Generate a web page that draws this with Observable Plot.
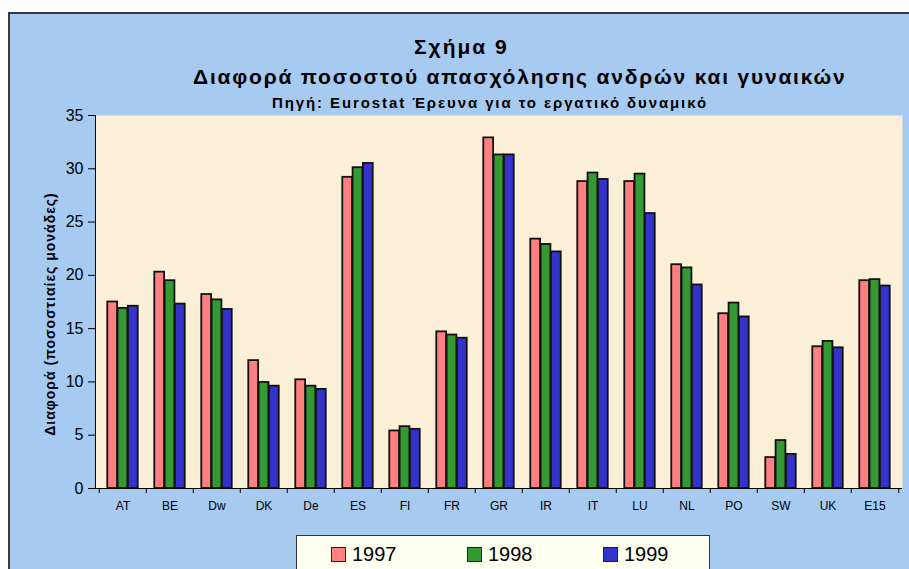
<!DOCTYPE html>
<html>
<head>
<meta charset="utf-8">
<script src="https://cdn.jsdelivr.net/npm/d3@7"></script>
<script src="https://cdn.jsdelivr.net/npm/@observablehq/plot@0.6"></script>
<style>
  html, body { margin: 0; padding: 0; background: #fff; }
  #wrap { position: relative; width: 909px; height: 569px; overflow: hidden; background: #fff; font-family: "Liberation Sans", Arial, sans-serif; }
  #box { position: absolute; left: 8px; top: 12px; width: 920px; height: 580px; background: #A6CAF0; border-top: 2px solid #3a3a3a; border-left: 2px solid #3a3a3a; }
  .t { position: absolute; white-space: nowrap; font-weight: bold; color: #000; line-height: 1; }
  #chart { position: absolute; left: 0; top: 0; }
  #legend { position: absolute; left: 296px; top: 535px; width: 412px; height: 50px; background: #FFFFF0; border: 1.5px solid #333; }
  .sw { position: absolute; top: 11px; width: 13px; height: 13px; border: 1px solid #222; }
  .lt { position: absolute; top: 8px; font-size: 20px; line-height: 1; color: #000; }
</style>
</head>
<body>
<div id="wrap">
  <div id="box"></div>
  <div id="chart"></div>
  <div class="t" id="t1" style="left:414px; top:36px; font-size:21px; letter-spacing:2px;">Σχήμα 9</div>
  <div class="t" id="t2" style="left:193px; top:66px; font-size:21px; letter-spacing:1.8px;">Διαφορά ποσοστού απασχόλησης ανδρών και γυναικών</div>
  <div class="t" id="t3" style="left:272px; top:95px; font-size:15px; letter-spacing:1.9px;">Πηγή: Eurostat Έρευνα για το εργατικό δυναμικό</div>
  <div id="legend"></div>
</div>
<script>
const countries = ["AT","BE","Dw","DK","De","ES","FI","FR","GR","IR","IT","LU","NL","PO","SW","UK","E15"];
const years = ["1997","1998","1999"];
const v1997 = [17.5, 20.3, 18.2, 12.0, 10.2, 29.2, 5.4, 14.7, 32.9, 23.4, 28.8, 28.8, 21.0, 16.4, 2.9, 13.3, 19.5];
const v1998 = [16.9, 19.5, 17.7, 9.95, 9.6, 30.1, 5.8, 14.4, 31.3, 22.9, 29.6, 29.5, 20.7, 17.4, 4.5, 13.8, 19.6];
const v1999 = [17.1, 17.3, 16.8, 9.6, 9.3, 30.5, 5.55, 14.1, 31.3, 22.2, 29.0, 25.8, 19.1, 16.1, 3.2, 13.2, 19.0];
const colors = ["#FF8080", "#339933", "#3333CC"];
const yTicks = [0, 5, 10, 15, 20, 25, 30, 35];
const yLabel = "Διαφορά (ποσοστιαίες μονάδες)";

const series = [v1997, v1998, v1999];
const table = [];
years.forEach((y, j) => countries.forEach((c, i) => table.push({country: c, year: y, value: series[j][i]})));

const W = 909, H = 530, ML = 95, MR = 7, MT = 115, MB = 42;
const band = (W - ML - MR) / countries.length;
const barW = 10.3;
const groupLeft = (band - barW * years.length) / 2;

const marks = [
  Plot.frame({fill: "#FCEFD7", stroke: null}),
  ...years.map((y, j) => Plot.barY(table.filter(d => d.year === y), {
    x: "country", y: "value", fill: colors[j], stroke: "#111", strokeWidth: 1.8,
    insetLeft: groupLeft + j * barW, insetRight: band - groupLeft - (j + 1) * barW
  })),
  Plot.ruleY([0], {stroke: "#000", strokeWidth: 1}),
  Plot.frame({anchor: "left", stroke: "#000", strokeWidth: 1}),
  Plot.axisY({ticks: yTicks, tickSize: 7, tickPadding: 5, fontSize: 16, tickFormat: d => d, label: null, stroke: "#000", fill: "#000"}),
  Plot.axisX({tickSize: 0, tickPadding: 13, fontSize: 12, label: null, fill: "#000"}),
  Plot.axisX({tickSize: 5, tickFormat: () => "", dx: -band / 2, label: null, stroke: "#000"}),
  Plot.axisX([countries[countries.length - 1]], {tickSize: 5, tickFormat: () => "", dx: band / 2, label: null, stroke: "#000"}),
  Plot.text([yLabel], {frameAnchor: "left", textAnchor: "middle", rotate: -90, dx: -45, dy: 12, fontWeight: "bold", fontSize: 14, fill: "#000"})
];

const chart = Plot.plot({
  width: W, height: H,
  marginLeft: ML, marginRight: MR, marginTop: MT, marginBottom: MB,
  style: {background: "transparent", fontFamily: "'Liberation Sans', Arial, sans-serif", color: "#000"},
  x: {domain: countries, padding: 0, axis: null},
  y: {domain: [0, 35], axis: null},
  marks
});
d3.select(chart).selectAll("text").filter(function() { return this.textContent === yLabel; }).style("letter-spacing", "1px");
document.getElementById("chart").appendChild(chart);

const legend = document.getElementById("legend");
years.forEach((y, j) => {
  const sw = document.createElement("div");
  sw.className = "sw";
  sw.style.left = (34 + j * 136) + "px";
  sw.style.background = colors[j];
  legend.appendChild(sw);
  const t = document.createElement("div");
  t.className = "lt";
  t.style.left = (55 + j * 136) + "px";
  t.textContent = y;
  legend.appendChild(t);
});
</script>
</body>
</html>
